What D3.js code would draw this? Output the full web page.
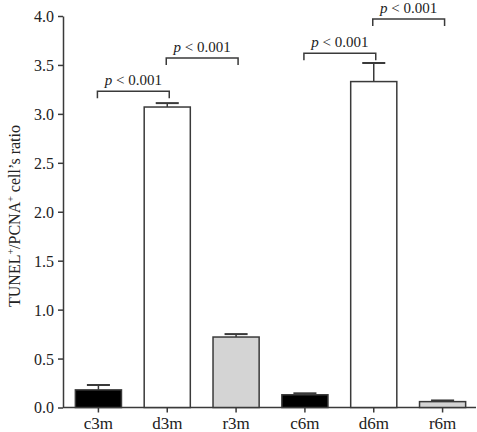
<!DOCTYPE html>
<html><head><meta charset="utf-8">
<script src="https://cdn.jsdelivr.net/npm/d3@7"></script>
<style>body{margin:0;background:#fff}svg{display:block}text{font-family:"Liberation Serif","DejaVu Serif",serif;fill:#222}</style>
</head><body><svg id="c" width="477" height="432"></svg>
<script>
const categories = ["c3m","d3m","r3m","c6m","d6m","r6m"];
const values = [0.18, 3.07, 0.72, 0.13, 3.33, 0.06];
const errors = [0.05, 0.04, 0.03, 0.015, 0.19, 0.012];
const fills = ["#000000","#ffffff","#d4d4d4","#000000","#ffffff","#d4d4d4"];
const yTicks = [0,0.5,1.0,1.5,2.0,2.5,3.0,3.5,4.0];
const brackets = [
  {a:"c3m", b:"d3m", level:3.23, label:"p < 0.001"},
  {a:"d3m", b:"r3m", level:3.57, label:"p < 0.001"},
  {a:"c6m", b:"d6m", level:3.62, label:"p < 0.001"},
  {a:"d6m", b:"r6m", level:3.97, label:"p < 0.001"}
];

const svg = d3.select("#c");
const stroke = "#3a3a3a";
const x = d3.scaleBand().domain(categories).range([64, 477]).paddingInner(0.33).paddingOuter(0.165);
const y = d3.scaleLinear().domain([0,4]).range([407.5, 16]);

// y axis
const ya = svg.append("g").attr("transform","translate(63,0)")
  .call(d3.axisLeft(y).tickValues(yTicks).tickFormat(d3.format(".1f")).tickSize(5).tickSizeOuter(0));
ya.select(".domain").attr("stroke",stroke).attr("stroke-width",1.5);
ya.selectAll(".tick line").attr("stroke",stroke).attr("stroke-width",1.5);
ya.selectAll(".tick text").attr("font-size",16).attr("x",-9).attr("dy","0.34em").style("font-family","Liberation Serif").attr("fill","#222");

// x axis
const xa = svg.append("g").attr("transform","translate(0,407.5)")
  .call(d3.axisBottom(x).tickSize(5).tickSizeOuter(0));
xa.select(".domain").attr("d","M63,0H476").attr("stroke",stroke).attr("stroke-width",1.5);
xa.selectAll(".tick line").attr("stroke",stroke).attr("stroke-width",1.5);
xa.selectAll(".tick text").attr("font-size",17).attr("y",9).attr("dy","0.71em").style("font-family","Liberation Serif").attr("fill","#222");

// bars
const g = svg.append("g");
categories.forEach((c,i)=>{
  const cx = x(c) + x.bandwidth()/2;
  g.append("line").attr("x1",cx).attr("x2",cx).attr("y1",y(values[i])).attr("y2",y(values[i]+errors[i]))
    .attr("stroke",stroke).attr("stroke-width",1.5);
  g.append("line").attr("x1",cx - x.bandwidth()/4).attr("x2",cx + x.bandwidth()/4)
    .attr("y1",y(values[i]+errors[i])).attr("y2",y(values[i]+errors[i]))
    .attr("stroke",stroke).attr("stroke-width",2);
  g.append("rect").attr("x",x(c)).attr("y",y(values[i])).attr("width",x.bandwidth())
    .attr("height",y(0)-y(values[i])).attr("fill",fills[i]).attr("stroke",stroke).attr("stroke-width",1.5);
});

// brackets
brackets.forEach(b=>{
  const x1 = x(b.a)+x.bandwidth()/2 - 1, x2 = x(b.b)+x.bandwidth()/2 + 2;
  const yy = y(b.level);
  svg.append("path").attr("d",`M${x1},${yy+7}V${yy}H${x2}V${yy+7}`)
    .attr("fill","none").attr("stroke",stroke).attr("stroke-width",1.5);
  const t = svg.append("text").attr("x",(x1+x2)/2).attr("y",yy-6).attr("text-anchor","middle").attr("font-size",15);
  t.append("tspan").attr("font-style","italic").text("p");
  t.append("tspan").text(" < 0.001");
});

// y title
const yt = svg.append("text").attr("transform","translate(20,216) rotate(-90)").attr("text-anchor","middle").attr("font-size",16);
yt.append("tspan").text("TUNEL");
yt.append("tspan").attr("font-size",10).attr("dy",-6).text("+");
yt.append("tspan").attr("dy",6).text("/PCNA");
yt.append("tspan").attr("font-size",10).attr("dy",-6).text("+");
yt.append("tspan").attr("dy",6).text(" cell’s ratio");
</script></body></html>
